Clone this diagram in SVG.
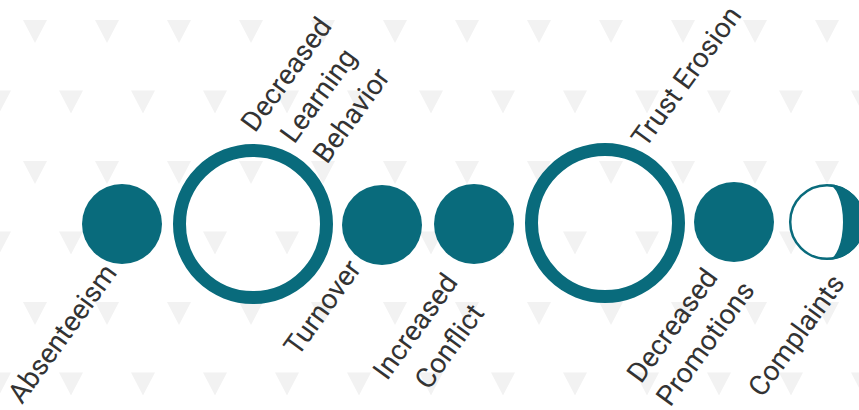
<svg xmlns="http://www.w3.org/2000/svg" width="859" height="410" viewBox="0 0 859 410">
  <style>
    .fill { fill: #096b7c; }
    .ring { fill: none; stroke: #096b7c; stroke-width: 13; }
    .lbl { font-family: Roboto, "Liberation Sans", sans-serif; font-size: 28px; fill: #333333; text-anchor: middle; }
  </style>
  <defs>
    <pattern id="tri" patternUnits="userSpaceOnUse" x="0" y="20" width="72" height="141">
      <polygon points="23,0 47,0 35,23" fill="#f2f2f2"/>
      <polygon points="-13,70.5 11,70.5 -1,93.5" fill="#f2f2f2"/>
      <polygon points="59,70.5 83,70.5 71,93.5" fill="#f2f2f2"/>
    </pattern>
  </defs>
  <rect width="859" height="410" fill="#ffffff"/>
  <rect width="859" height="410" fill="url(#tri)"/>
  <g id="connectors"></g>
  <g id="absenteeism">
    <circle class="fill" cx="122" cy="224" r="40"/>
    <text class="lbl" transform="translate(70,339) rotate(-54)">Absenteeism</text>
  </g>
  <g id="decreased-learning-behavior">
    <circle class="ring" cx="253" cy="224" r="73.5"/>
    <text class="lbl" transform="translate(294,80) rotate(-54)">Decreased</text>
    <text class="lbl" transform="translate(326,101) rotate(-54)">Learning</text>
    <text class="lbl" transform="translate(359,121) rotate(-54)">Behavior</text>
  </g>
  <g id="turnover">
    <circle class="fill" cx="382" cy="225" r="40"/>
    <text class="lbl" transform="translate(330,313) rotate(-54)">Turnover</text>
  </g>
  <g id="increased-conflict">
    <circle class="fill" cx="474" cy="224" r="40"/>
    <text class="lbl" transform="translate(423,332) rotate(-54)">Increased</text>
    <text class="lbl" transform="translate(457,352) rotate(-54)">Conflict</text>
  </g>
  <g id="trust-erosion">
    <circle class="ring" cx="605" cy="223" r="73.5"/>
    <text class="lbl" transform="translate(694,82) rotate(-54)">Trust Erosion</text>
  </g>
  <g id="decreased-promotions">
    <circle class="fill" cx="734" cy="222" r="40"/>
    <text class="lbl" transform="translate(680,331) rotate(-54)">Decreased</text>
    <text class="lbl" transform="translate(713,349) rotate(-54)">Promotions</text>
  </g>
  <g id="complaints">
    <circle cx="827" cy="222" r="36.8" fill="#ffffff" stroke="#096b7c" stroke-width="2.5"/>
    <path class="fill" d="M827,184 A38,38 0 0 1 827,260 A16,38 0 0 0 827,184 Z"/>
    <text class="lbl" transform="translate(804,341) rotate(-54)">Complaints</text>
  </g>
</svg>
